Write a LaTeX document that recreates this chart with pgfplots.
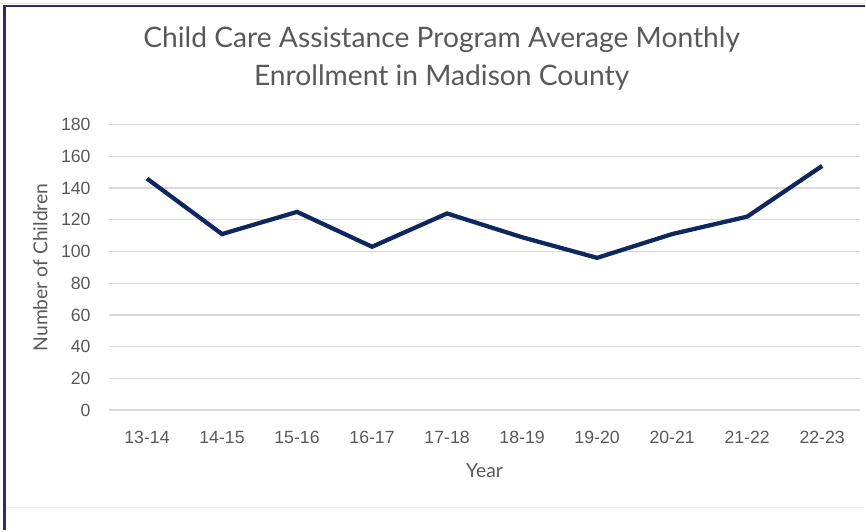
\documentclass[border=0pt]{standalone}
\usepackage{fontspec}
\setmainfont{Lato}
\newfontfamily\tickfont{Liberation Sans}
\usepackage{pgfplots}
\pgfplotsset{compat=1.18}

\definecolor{navyline}{RGB}{14,40,95}
\definecolor{framecol}{RGB}{46,42,110}
\definecolor{gridgray}{RGB}{217,217,217}
\definecolor{txtgray}{RGB}{89,89,89}

\begin{document}
\begin{tikzpicture}[x=0.75pt,y=0.75pt]
 % page frame, 866 x 531 px
 \path (0,0) rectangle (866,531);
 \draw[gridgray!70,line width=1.1pt] (0,527.5) -- (866,527.5);
 \draw[framecol,line width=2pt] (3,525) -- (866,525);
 \draw[framecol,line width=2pt] (4,0) -- (4,526);
 \draw[black!5,line width=0.8pt] (5,22) -- (866,22);

 \node[txtgray,font=\fontsize{21.2}{25}\selectfont] at (442,491) {Child Care Assistance Program Average Monthly};
 \node[txtgray,font=\fontsize{21.2}{25}\selectfont] at (442,453) {Enrollment in Madison County};

 \begin{axis}[at={(81.75pt,90pt)},anchor=south west,
  scale only axis,width=564pt,height=214.5pt,
  xmin=-0.5,xmax=9.5,ymin=0,ymax=180,
  xtick={0,...,9},
  xticklabels={13-14,14-15,15-16,16-17,17-18,18-19,19-20,20-21,21-22,22-23},
  ytick={0,20,...,180},
  axis line style={draw=none},major tick length=0pt,
  ymajorgrids,grid style={gridgray,line width=1pt},
  ticklabel style={font=\tickfont\fontsize{13.3}{15}\selectfont,text=txtgray,inner sep=0pt},
  yticklabel style={anchor=east,xshift=-14pt},
  xticklabel style={anchor=north,yshift=-15.5pt},
  /pgf/number format/assume math mode=true,
  xlabel={Year},ylabel={Number of Children},
  label style={font=\fontsize{14.5}{17}\selectfont,text=txtgray},
  xlabel style={at={(axis description cs:0.5,0)},anchor=center,yshift=-45.5pt},
  ylabel style={at={(axis description cs:0,0.5)},anchor=center,yshift=52pt},
 ]
  \addplot[navyline,line width=3.2pt,line join=miter] coordinates {
   (0,146) (1,111) (2,125) (3,103) (4,124)
   (5,109) (6,96) (7,111) (8,122) (9,154)};
 \end{axis}
\end{tikzpicture}
\end{document}
